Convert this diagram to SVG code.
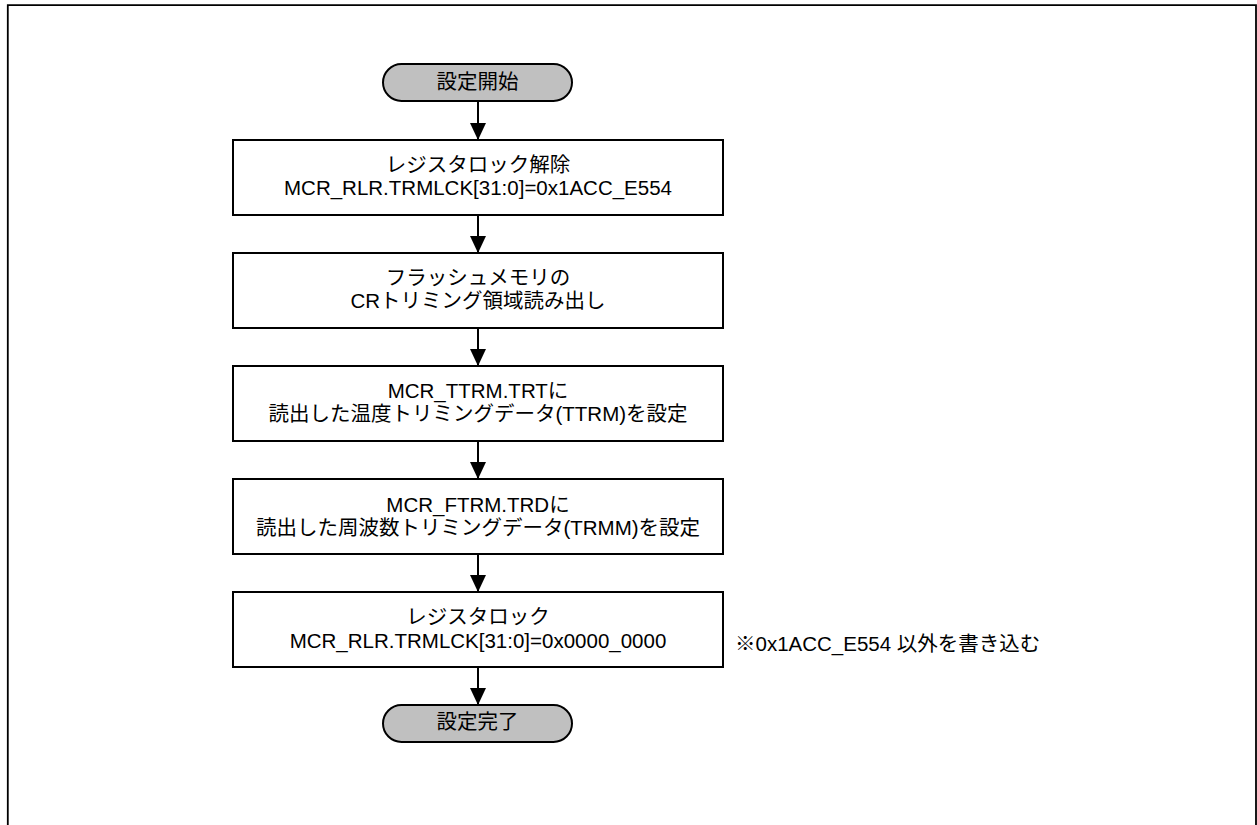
<svg xmlns="http://www.w3.org/2000/svg" width="1257" height="825" viewBox="0 0 1257 825">
<defs>
<style>
.frame{fill:none;stroke:#000;stroke-width:1.8}
.box{fill:#fff;stroke:#000;stroke-width:2}
.term{fill:#c0c0c0;stroke:#000;stroke-width:2}
.t{font-family:"Liberation Sans","Noto Sans CJK JP",sans-serif;font-size:20.5px;fill:#000;text-anchor:middle}
.note{font-family:"Liberation Sans","Noto Sans CJK JP",sans-serif;font-size:20.5px;fill:#000}
.conn{stroke:#000;stroke-width:2;fill:none}
</style>
<marker id="ah" markerUnits="userSpaceOnUse" markerWidth="18" markerHeight="18" viewBox="0 0 18 18" refX="17" refY="9" orient="auto">
<path d="M0,1 L17,9 L0,17 Z" fill="#000"/>
</marker>
</defs>
<rect width="1257" height="825" fill="#fff"/>
<path class="frame" d="M7.8,830 V5.2 H1256 V830"/>

<g id="start">
<rect class="term" x="383" y="64" width="189" height="37" rx="18.5"/>
<text class="t" x="477.5" y="89">設定開始</text>
</g>
<g id="step1">
<rect class="box" x="233" y="140" width="490" height="75"/>
<text class="t" x="478" y="172">レジスタロック解除</text>
<text class="t" x="478" y="195">MCR_RLR.TRMLCK[31:0]=0x1ACC_E554</text>
</g>
<g id="step2">
<rect class="box" x="233" y="253" width="490" height="75"/>
<text class="t" x="478" y="285">フラッシュメモリの</text>
<text class="t" x="478" y="308">CRトリミング領域読み出し</text>
</g>
<g id="step3">
<rect class="box" x="233" y="366" width="490" height="75"/>
<text class="t" x="478" y="398">MCR_TTRM.TRTに</text>
<text class="t" x="478" y="421">読出した温度トリミングデータ(TTRM)を設定</text>
</g>
<g id="step4">
<rect class="box" x="233" y="479" width="490" height="75"/>
<text class="t" x="478" y="512">MCR_FTRM.TRDに</text>
<text class="t" x="478" y="535">読出した周波数トリミングデータ(TRMM)を設定</text>
</g>
<g id="step5">
<rect class="box" x="233" y="592" width="490" height="75"/>
<text class="t" x="478" y="624">レジスタロック</text>
<text class="t" x="478" y="648">MCR_RLR.TRMLCK[31:0]=0x0000_0000</text>
</g>
<g id="note">
<text class="note" x="735" y="651">※0x1ACC_E554 以外を書き込む</text>
</g>
<g id="end">
<rect class="term" x="383" y="705" width="189" height="37" rx="18.5"/>
<text class="t" x="477.5" y="729">設定完了</text>
</g>

<g id="connectors">
<line class="conn" x1="478" y1="101" x2="478" y2="140" marker-end="url(#ah)"/>
<line class="conn" x1="478" y1="215" x2="478" y2="253" marker-end="url(#ah)"/>
<line class="conn" x1="478" y1="328" x2="478" y2="366" marker-end="url(#ah)"/>
<line class="conn" x1="478" y1="441" x2="478" y2="479" marker-end="url(#ah)"/>
<line class="conn" x1="478" y1="554" x2="478" y2="592" marker-end="url(#ah)"/>
<line class="conn" x1="478" y1="667" x2="478" y2="705" marker-end="url(#ah)"/>
</g>
</svg>
